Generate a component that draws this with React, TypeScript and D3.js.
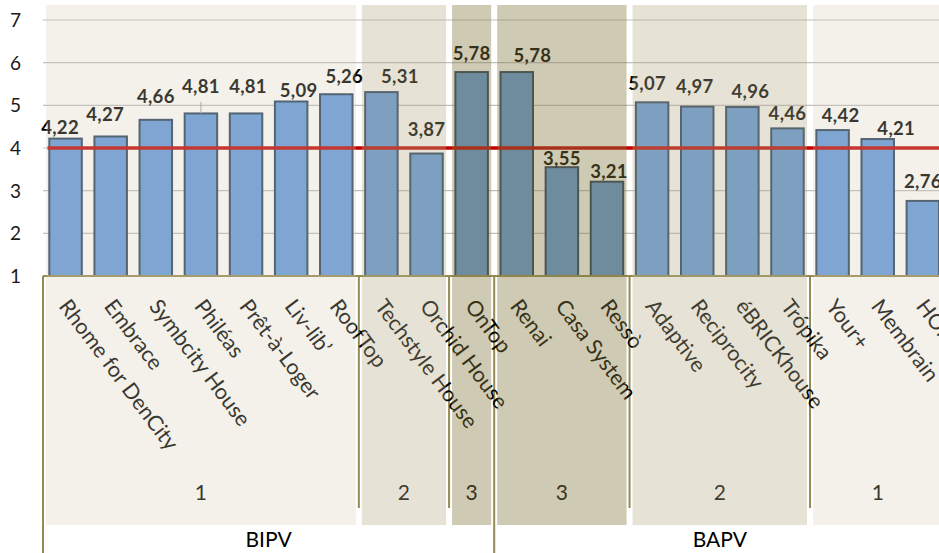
import React from "react";
import * as d3 from "d3";

const categories = [
  "Rhome for DenCity", "Embrace", "Symbcity House", "Philéas", "Prêt-à-Loger",
  "Liv-lib’", "RoofTop", "Techstyle House", "Orchid House", "OnTop",
  "Renai", "Casa System", "Ressò", "Adaptive", "Reciprocity",
  "éBRICKhouse", "Trópika", "Your+", "Membrain", "HOME+",
];
const values = [
  4.22, 4.27, 4.66, 4.81, 4.81, 5.09, 5.26, 5.31, 3.87, 5.78,
  5.78, 3.55, 3.21, 5.07, 4.97, 4.96, 4.46, 4.42, 4.21, 2.76,
];
// manual label placement (Excel labels were dragged): lift above bar top, horizontal shift
const labelLift = [5, 15, 17, 20.5, 20.5, 4, 11.5, 9, 17.5, 12, 10.3, 2, 3.5, 12, 14, 9.4, 8.4, 7.6, 4, 13.4];
const labelShift = [-5.5, -5.5, 0, 0, 2, 7.5, 8, 18.5, 0, 0, 15.6, 0, 2, -5, -2.5, 8, 0, 8, 18.5, 0];
const leaderLines = [3];

const threshold = 4;
const yTicks = [1, 2, 3, 4, 5, 6, 7];

const groupLabels = ["1", "2", "3", "3", "2", "1"];
const groupStart = [0, 7, 9, 10, 13, 17];
const groupEnd = [7, 9, 10, 13, 17, 20];
const groupShade = [1, 2, 3, 3, 2, 1];

const superLabels = ["BIPV", "BAPV"];
const superStart = [0, 10];
const superEnd = [10, 20];

const W = 939;
const H = 553;
const FONT = "Lato, 'Open Sans', sans-serif";

const shadeStyle: Record<number, { color: string; alpha: number }> = {
  1: { color: "rgb(211,203,177)", alpha: 0.27 },
  2: { color: "rgb(184,175,138)", alpha: 0.35 },
  3: { color: "rgb(135,122,65)", alpha: 0.4 },
};

export default function App() {
  const left = 43;
  const step = 45.12;
  const x = d3
    .scaleBand<string>()
    .domain(categories)
    .range([left, left + step * categories.length])
    .paddingInner(0.28)
    .paddingOuter(0.14);
  const y = d3.scaleLinear().domain([1, 7]).range([276, 20]);
  const bound = (i: number) => left + x.step() * i;
  const axisY = y(1);
  const angle = 53;

  const bandTop = 5;
  const bandBottom = 525;

  return (
    <svg
      width={W}
      height={H}
      style={{ position: "absolute", left: 0, top: 0, display: "block", background: "#fff" }}
      fontFamily={FONT}
    >
      <rect x={0} y={0} width={W} height={H} fill="#fff" />
      {/* gridlines */}
      {yTicks.slice(1).map((t) => (
        <line key={"g" + t} x1={left} x2={W} y1={y(t)} y2={y(t)} stroke="#BFBFBF" strokeWidth={1.2} />
      ))}
      {/* bars */}
      {values.map((v, i) => (
        <rect
          key={"b" + i}
          x={x(categories[i])!}
          y={y(v)}
          width={x.bandwidth()}
          height={axisY - y(v)}
          fill="rgb(96,152,222)"
          stroke="rgb(38,62,92)"
          strokeWidth={2}
        />
      ))}
      {/* threshold line */}
      <line x1={47.5} x2={W} y1={y(threshold)} y2={y(threshold)} stroke="#C00000" strokeWidth={3.5} />
      {/* leader lines */}
      {leaderLines.map((i) => {
        const cx = x(categories[i])! + x.bandwidth() / 2 + labelShift[i];
        return (
          <line key={"l" + i} x1={cx} x2={cx} y1={y(values[i]) - labelLift[i] + 9} y2={y(values[i])} stroke="#A0A0A0" strokeWidth={1} />
        );
      })}
      {/* data labels */}
      {values.map((v, i) => (
        <text
          key={"t" + i}
          x={x(categories[i])! + x.bandwidth() / 2 + labelShift[i]}
          y={y(v) - labelLift[i]}
          textAnchor="middle"
          fontWeight={700}
          fontSize={18.5}
          letterSpacing={0.3}
          fill="#000"
        >
          {v.toFixed(2).replace(".", ",")}
        </text>
      ))}
      {/* x axis line */}
      <line x1={left} x2={W} y1={axisY} y2={axisY} stroke="#948A54" strokeWidth={2} />
      {/* group separators */}
      {groupStart
        .filter((s) => !superStart.includes(s))
        .map((s) => (
          <line key={"s" + s} x1={bound(s)} x2={bound(s)} y1={axisY} y2={508} stroke="#948A54" strokeWidth={2} />
        ))}
      {superStart.map((s) => (
        <line key={"S" + s} x1={bound(s)} x2={bound(s)} y1={axisY} y2={H} stroke="#948A54" strokeWidth={2} />
      ))}
      {/* category labels */}
      {categories.map((c, i) => {
        const cx = x(c)! + x.bandwidth() / 2;
        return (
          <text
            key={"c" + i}
            transform={`translate(${cx - 7.5},${306.5}) rotate(${angle})`}
            fontSize={21.5}
            fill="#000"
          >
            {c}
          </text>
        );
      })}
      {/* group labels */}
      {groupLabels.map((g, i) => (
        <text
          key={"gl" + i}
          x={(bound(groupStart[i]) + bound(groupEnd[i])) / 2}
          y={500}
          textAnchor="middle"
          fontSize={21}
          fill="#000"
        >
          {g}
        </text>
      ))}
      {/* shaded overlays */}
      {groupLabels.map((g, i) => {
        const s = shadeStyle[groupShade[i]];
        const x0 = bound(groupStart[i]) + 3;
        const x1 = bound(groupEnd[i]) - 3;
        return (
          <rect
            key={"o" + i}
            x={x0}
            y={bandTop}
            width={x1 - x0}
            height={bandBottom - bandTop}
            fill={s.color}
            fillOpacity={s.alpha}
          />
        );
      })}
      {/* super group labels */}
      {superLabels.map((s, i) => (
        <text
          key={"sl" + i}
          x={(bound(superStart[i]) + bound(superEnd[i])) / 2}
          y={546.5}
          textAnchor="middle"
          fontSize={21}
          fill="#000"
        >
          {s}
        </text>
      ))}
      {/* y tick labels */}
      {yTicks.map((t) => (
        <text key={"y" + t} x={21} y={y(t) + 7} textAnchor="end" fontSize={19} fill="#1a1a1a">
          {t}
        </text>
      ))}
    </svg>
  );
}
